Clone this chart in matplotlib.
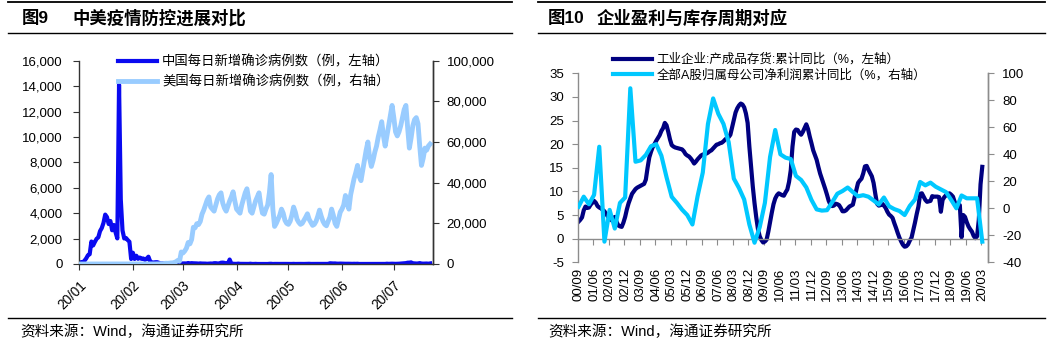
import matplotlib
matplotlib.use("Agg")
import matplotlib.pyplot as plt
import matplotlib.dates as mdates
from matplotlib.lines import Line2D
from matplotlib.ticker import FuncFormatter
import numpy as np
import pandas as pd

plt.rcParams['font.family'] = ['Liberation Sans', 'Noto Sans CJK SC']
plt.rcParams['axes.unicode_minus'] = False

# ---------------- 图9: daily new confirmed cases, China vs US ----------------
cn_daily = [
    # Jan 20 - Jan 31
    77, 149, 131, 259, 444, 688, 769, 1771, 1459, 1737, 1982, 2102,
    # Feb
    2590, 2829, 3235, 3887, 3694, 3143, 3385, 2652, 3073, 2478,
    2015, 14108, 5090, 2641, 2009, 2048, 1886, 1749, 394, 889,
    397, 648, 409, 508, 406, 433, 327, 427, 573,
    # Mar
    202, 125, 119, 139, 143, 99, 44, 40, 19, 24,
    15, 8, 11, 20, 16, 21, 13, 34, 39, 41,
    46, 39, 78, 47, 67, 55, 54, 45, 31, 48, 36,
    # Apr
    35, 31, 19, 30, 39, 32, 62, 63, 42, 46,
    99, 108, 89, 46, 26, 352, 27, 16, 12, 11,
    30, 11, 10, 6, 11, 12, 6, 22, 4, 3,
    # May
    12, 2, 1, 3, 2, 2, 4, 1, 14, 17,
    1, 7, 4, 7, 5, 8, 5, 7, 6, 4,
    12, 3, 11, 3, 7, 7, 7, 2, 4, 4, 11,
    # Jun
    16, 5, 7, 6, 5, 7, 6, 4, 3, 3,
    1, 8, 57, 49, 40, 44, 28, 25, 32, 26,
    25, 18, 22, 19, 13, 11, 17, 12, 19, 3,
    # Jul
    3, 5, 4, 8, 8, 7, 9, 5, 7, 5,
    7, 8, 6, 8, 6, 22, 11, 17, 22, 14,
    11, 14, 22, 34, 46, 61, 68, 101, 105, 127, 45,
    # Aug 1 - Aug 10
    49, 36, 43, 71, 37, 27, 36, 37, 23, 44,
]

us_daily = [
    0, 0, 1, 0, 0, 1, 0,
    0, 0, 0, 1, 1, 1, 1,
    0, 0, 1, 0, 0, 0, 0,
    1, 0, 1, 0, 0, 0, 0,
    0, 0, 0, 0, 0, 0, 0,
    0, 0, 0, 1, 0, 5, 8,
    23, 20, 31, 68, 45, 140, 116,
    65, 376, 322, 382, 516, 548, 772,
    1133, 1789, 1362, 5894, 5423, 6389, 7787,
    10571, 9893, 12038, 18058, 17821, 19821, 19408,
    20922, 24500, 26500, 29000, 31500, 33000, 28000,
    27000, 26000, 29000, 32000, 34000, 35000, 30000,
    27500, 26000, 28500, 31000, 33000, 35500, 31000,
    27000, 26000, 25000, 29000, 32000, 35000, 37000,
    32000, 26000, 25000, 28000, 31000, 33000, 35000,
    29000, 25000, 24500, 27000, 29000, 35000, 44000,
    27000, 18500, 20000, 22000, 24000, 27000, 25000,
    21500, 20000, 19500, 21000, 24000, 28000, 25500,
    22000, 20500, 19500, 20000, 21500, 23000, 24700,
    22000, 20500, 19000, 19500, 21000, 23500, 26500,
    23500, 21000, 19500, 18800, 21000, 23000, 27000,
    24000, 20000, 18500, 22000, 25500, 27000, 29000,
    33700, 30000, 27000, 34000, 38000, 42000, 45000,
    48500, 43000, 41000, 46000, 51000, 56000, 60000,
    52000, 48000, 51000, 55000, 58000, 62500, 66000,
    70000, 63000, 58000, 63000, 68000, 73000, 78000,
    72000, 65000, 63000, 65000, 68000, 72000, 76000,
    78000, 67000, 57000, 62000, 68000, 71000, 72000,
    69000, 58000, 48500, 52000, 57000, 56000, 58000, 59000,
]

cn_label = "中国每日新增确诊病例数（例，左轴）"
us_label = "美国每日新增确诊病例数（例，右轴）"
days = pd.date_range("2020-01-20", periods=len(cn_daily), freq="D")

# ---------------- 图10: inventory cycle vs A-share profits ----------------
months = pd.period_range("2000-09", "2020-03", freq="M")
inventory_yoy = [
    3.6, 4.0, 4.5, 6.0, 6.8, 6.5, 6.6, 7.2, 7.6, 8.0,
    7.6, 6.9, 6.6, 6.4, 6.1, 5.8, 5.2, 4.7, 4.2, 3.9,
    4.3, 4.6, 3.6, 2.8, 2.6, 2.5, 3.4, 4.6, 6.2, 7.5,
    8.5, 9.5, 10.0, 10.5, 10.8, 11.0, 11.2, 11.4, 11.6, 12.5,
    15.0, 17.2, 18.4, 19.4, 20.0, 20.7, 21.3, 21.9, 22.8, 23.4,
    24.5, 24.0, 22.6, 21.0, 19.8, 19.5, 19.3, 19.2, 19.1, 19.0,
    18.9, 18.5, 17.9, 17.6, 17.4, 17.0, 16.5, 15.9, 16.3, 16.8,
    17.2, 17.6, 17.8, 17.9, 18.0, 18.2, 18.5, 18.7, 19.1, 19.5,
    19.9, 20.0, 20.2, 20.3, 20.6, 21.0, 21.3, 21.5, 22.0, 23.6,
    25.3, 26.7, 27.6, 28.2, 28.6, 28.4, 27.8, 26.5, 24.5, 19.5,
    15.2, 11.0, 7.5, 4.5, 2.0, 0.5, -0.3, -0.8, -0.6, -0.2,
    1.5, 3.5, 5.5, 7.3, 8.5, 9.2, 9.6, 9.4, 9.2, 9.1,
    9.8, 10.4, 12.0, 14.5, 19.5, 22.6, 23.1, 23.0, 22.4, 22.0,
    22.6, 23.4, 24.2, 23.2, 21.6, 20.2, 18.7, 17.7, 16.7, 15.2,
    13.8, 12.7, 11.6, 10.5, 9.3, 8.0, 7.2, 6.9, 7.0, 7.4,
    7.3, 7.1, 6.5, 5.8, 5.8, 6.0, 6.4, 6.8, 7.0, 7.2,
    8.8, 10.3, 11.8, 12.3, 12.7, 13.8, 15.3, 15.4, 14.6, 13.9,
    13.2, 11.8, 9.5, 7.4, 7.0, 7.1, 7.4, 7.0, 6.5, 5.7,
    5.1, 4.8, 4.4, 3.3, 2.3, 1.2, 0.2, -0.6, -1.3, -1.7,
    -1.6, -1.2, -0.4, 0.2, 1.8, 3.4, 5.2, 6.8, 9.5, 9.6,
    8.9, 8.2, 7.8, 7.9, 8.0, 9.0, 8.9, 8.9, 8.9, 8.8,
    5.7, 8.2, 8.8, 9.2, 9.4, 9.6, 9.3, 8.9, 7.8, 6.8,
    7.0, 7.1, 0.3, 5.0, 4.6, 3.5, 2.6, 2.0, 1.5, 0.6,
    0.1, 0.5, 4.0, 11.5, 15.2,
]
profit_quarters = pd.period_range("2000Q3", "2020Q1", freq="Q")
profit_yoy = [
    1.2, 8.6, 3.0, 10.0, 45.6, -24.7, -1.2, -15.0, 4.0, 8.0,
    88.9, 34.5, 35.5, 39.5, 46.0, 47.5, 39.0, 23.0, 8.5, 4.0,
    -1.0, -5.0, -12.0, 9.0, 26.5, 62.5, 81.4, 70.0, 62.5, 49.0,
    22.0, 15.0, 6.5, -12.0, -25.5, -14.0, 4.0, 38.0, 58.0, 40.0,
    37.5, 36.5, 24.0, 21.0, 15.5, 6.2, -0.8, -1.7, -1.4, 4.5,
    10.8, 12.8, 15.4, 12.0, 8.9, 9.7, 8.6, 5.8, 2.8, 8.0,
    1.5, -0.6, -2.0, -5.0, 1.8, 6.5, 19.5, 17.0, 19.0, 16.0,
    14.0, 12.0, 6.2, 0.0, 9.5, 7.4, 7.4, 7.4, -24.7,
]
inv_label = "工业企业:产成品存货:累计同比（%，左轴）"
profit_label = "全部A股归属母公司净利润累计同比（%，右轴）"

W, H = 1058, 344


def fx(px):
    return px / W


def fy(py):
    return 1 - py / H


fig = plt.figure(figsize=(W / 100, H / 100), dpi=100)

# header / footer rules and titles
for x0, x1 in [(8, 512), (538, 1045)]:
    for yy, lw in [(2, 1.3), (33, 1.0), (318, 1.0)]:
        fig.add_artist(Line2D([fx(x0), fx(x1)], [fy(yy), fy(yy)], lw=lw, color='black',
                              transform=fig.transFigure))

title_kw = dict(fontsize=12.5, fontweight='bold', va='center')
fig.text(fx(22), fy(18), "图9", **title_kw)
fig.text(fx(72), fy(18), "中美疫情防控进展对比", **title_kw)
fig.text(fx(548), fy(18), "图10", **title_kw)
fig.text(fx(597), fy(18), "企业盈利与库存周期对应", **title_kw)
source = "资料来源：Wind，海通证券研究所"
fig.text(fx(20), fy(332), source, fontsize=10.5, va='center')
fig.text(fx(548), fy(332), source, fontsize=10.5, va='center')

# ---- left panel ----
ax1 = fig.add_axes([fx(79.3), fy(264), (432.7 - 79.3) / W, (264 - 60.7) / H])
ax1.plot(days, cn_daily, color='#0A0AF0', lw=3, solid_joinstyle='round', label=cn_label)
ax1r = ax1.twinx()
ax1r.plot(days, us_daily, color='#99CCFF', lw=3.5, solid_joinstyle='round', label=us_label)

ax1.set_xlim(days[0], days[0] + pd.Timedelta(days=204.5))
ax1.set_ylim(0, 16000)
ax1r.set_ylim(0, 100000)
ax1.set_yticks(np.arange(0, 16001, 2000))
ax1r.set_yticks(np.arange(0, 100001, 20000))
thousands = FuncFormatter(lambda v, p: f"{v:,.0f}")
ax1.yaxis.set_major_formatter(thousands)
ax1r.yaxis.set_major_formatter(thousands)
ax1.xaxis.set_major_locator(mdates.MonthLocator(bymonthday=20))
ax1.xaxis.set_major_formatter(mdates.DateFormatter('%y/%m'))

for a in (ax1, ax1r):
    a.spines['top'].set_visible(False)
    for s in a.spines.values():
        s.set_color('#333333')
        s.set_linewidth(1.0)
ax1r.spines['left'].set_visible(False)
ax1r.spines['bottom'].set_visible(False)
ax1.tick_params(axis='y', direction='out', length=4, pad=8, labelsize=9.5, color='#333333')
ax1r.tick_params(axis='y', direction='out', length=4, pad=6, labelsize=9.5, color='#333333')
ax1.tick_params(axis='x', direction='out', length=4, pad=6, labelsize=9.8, color='#333333')
for lab in ax1.get_xticklabels():
    lab.set_rotation(45)
    lab.set_ha('right')
    lab.set_rotation_mode('anchor')

ax1r.legend(ax1.get_lines() + ax1r.get_lines(), [cn_label, us_label],
            loc='upper left', bbox_to_anchor=(0.11, 1.025), frameon=False,
            fontsize=9.6, handlelength=2.9, handletextpad=0.4, borderpad=0,
            borderaxespad=0, labelspacing=0.45)

# ---- right panel ----
grey = '#8C8C8C'
x = np.arange(len(months))
profit_pos = [months.get_loc(q.asfreq('M', 'end')) for q in profit_quarters]

ax2 = fig.add_axes([fx(577.7), fy(262.3), 410.6 / W, 189 / H])
ax2.plot(x, inventory_yoy, color='#000080', lw=3, solid_joinstyle='round', label=inv_label)
ax2r = ax2.twinx()
ax2r.plot(profit_pos, profit_yoy, color='#00C8FF', lw=3, solid_joinstyle='round', label=profit_label)

ax2.set_xlim(-0.5, len(months) + 2.5)
ax2.set_ylim(-5, 35)
ax2r.set_ylim(-40, 100)
ax2.set_yticks(np.arange(-5, 36, 5))
ax2r.set_yticks(np.arange(-40, 101, 20))

ax2.spines['bottom'].set_position(('data', 0))
ax2.set_xticks(np.arange(8.5, len(months), 9))
ax2.tick_params(axis='x', direction='out', length=4, labelbottom=False, color=grey)
sec = ax2.secondary_xaxis('bottom')
sec.set_xticks(x[::9], labels=[p.strftime('%y/%m') for p in months[::9]])
sec.tick_params(length=0, pad=4, labelsize=9.5, labelrotation=90)
sec.spines['bottom'].set_visible(False)

for a in (ax2, ax2r):
    a.spines['top'].set_visible(False)
    for s in a.spines.values():
        s.set_color(grey)
        s.set_linewidth(1.0)
ax2r.spines['left'].set_visible(False)
ax2r.spines['bottom'].set_visible(False)
ax2.tick_params(axis='y', direction='out', length=4, pad=6, labelsize=9.5, color=grey)
ax2r.tick_params(axis='y', direction='out', length=4, pad=6, labelsize=9.5, color=grey)

ax2r.legend(ax2.get_lines() + ax2r.get_lines(), [inv_label, profit_label],
            loc='upper left', bbox_to_anchor=(0.086, 1.105), frameon=False,
            fontsize=9.0, handlelength=3.1, handletextpad=0.4, borderpad=0,
            borderaxespad=0, labelspacing=0.25)

fig.savefig("out.png", dpi=100)
